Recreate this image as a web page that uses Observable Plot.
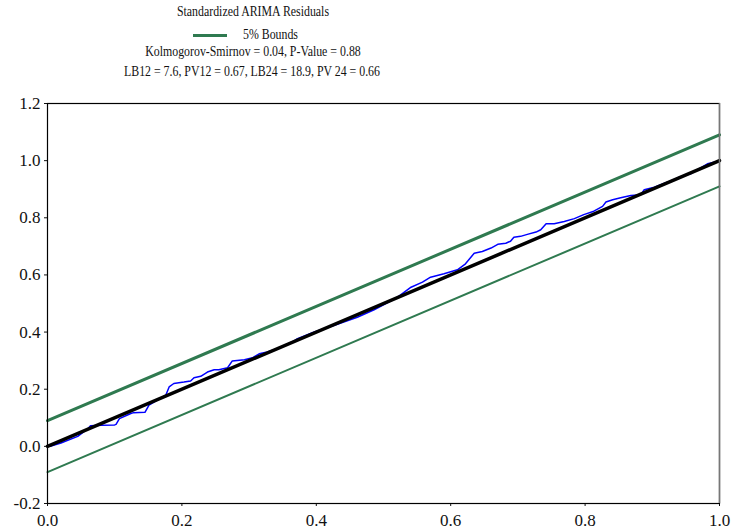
<!DOCTYPE html>
<html>
<head>
<meta charset="utf-8">
<script src="https://cdn.jsdelivr.net/npm/d3@7"></script>
<script src="https://cdn.jsdelivr.net/npm/@observablehq/plot@0.6"></script>
<style>
  html, body { margin: 0; padding: 0; background: #fff; }
  #wrap { width: 740px; height: 531px; position: relative; overflow: hidden; }
  #header { position: relative; width: 740px; height: 82px; font-family: "Liberation Serif", "Times New Roman", serif; font-size: 15px; line-height: 15px; color: #111; }
  .c { position: absolute; white-space: nowrap; transform: translateX(-50%) scaleX(0.79); }
  .l { position: absolute; white-space: nowrap; transform-origin: left center; transform: scaleX(0.79); }
  #swatch { position: absolute; left: 193px; top: 33.5px; width: 34px; height: 3px; background: #2f7a50; }
  #chart svg { display: block; }
</style>
</head>
<body>
<div id="wrap">
  <div id="header">
    <div class="c" id="sub" style="left:253px; top:4px;"></div>
    <div id="swatch"></div>
    <div class="l" id="leg" style="left:243px; top:26.7px;"></div>
    <div class="c" id="ks" style="left:253px; top:44px;"></div>
    <div class="c" id="lb" style="left:252px; top:64px;"></div>
  </div>
  <div id="chart"></div>
</div>
<script>
// ---- texts ----
const subtitle = "Standardized ARIMA Residuals";
const legendLabel = "5% Bounds";
const ksLine = "Kolmogorov-Smirnov = 0.04, P-Value = 0.88";
const lbLine = "LB12 = 7.6, PV12 = 0.67, LB24 = 18.9, PV 24 = 0.66";

// ---- tick values ----
const xTicks = [0.0, 0.2, 0.4, 0.6, 0.8, 1.0];
const yTicks = [-0.2, 0.0, 0.2, 0.4, 0.6, 0.8, 1.0, 1.2];

// ---- reference lines (x endpoints, y endpoints) ----
const lineX = [0, 1];
const diagY = [0, 1];
const upperY = [0.09, 1.09];
const lowerY = [-0.09, 0.91];

// ---- empirical CDF of standardized residuals (blue) ----
const ecdfX = [0.000,0.004,0.020,0.045,0.060,0.064,0.080,0.100,0.102,0.107,0.124,0.128,0.145,0.151,0.176,0.181,0.188,0.203,0.213,0.218,0.228,0.238,0.248,0.255,0.268,0.275,0.293,0.305,0.315,0.327,0.342,0.367,0.372,0.397,0.426,0.461,0.486,0.521,0.541,0.558,0.570,0.590,0.610,0.622,0.635,0.647,0.660,0.670,0.682,0.689,0.694,0.704,0.714,0.727,0.734,0.742,0.754,0.769,0.784,0.798,0.813,0.826,0.831,0.841,0.853,0.868,0.883,0.888,0.903,0.923,0.942,0.957,0.972,0.982,0.992,1.000];
const ecdfY = [0.000,0.000,0.012,0.035,0.062,0.072,0.074,0.075,0.077,0.097,0.115,0.118,0.119,0.144,0.179,0.208,0.220,0.225,0.229,0.240,0.245,0.260,0.268,0.268,0.275,0.299,0.303,0.310,0.324,0.330,0.342,0.369,0.377,0.400,0.423,0.452,0.478,0.522,0.557,0.575,0.592,0.604,0.618,0.639,0.676,0.682,0.694,0.707,0.711,0.718,0.732,0.735,0.742,0.750,0.758,0.779,0.779,0.787,0.797,0.811,0.823,0.840,0.855,0.863,0.870,0.878,0.881,0.898,0.907,0.925,0.944,0.954,0.975,0.989,0.994,1.000];

document.getElementById("sub").textContent = subtitle;
document.getElementById("leg").textContent = legendLabel;
document.getElementById("ks").textContent = ksLine;
document.getElementById("lb").textContent = lbLine;

const ecdf = ecdfX.map((x, i) => ({x, y: ecdfY[i]}));
const mk = ys => lineX.map((x, i) => ({x, y: ys[i]}));
const fmt = d => d.toFixed(1);
const green = "#2f7a50";

const plot = Plot.plot({
  width: 740,
  height: 449,
  marginTop: 21,
  marginBottom: 28,
  marginLeft: 47,
  marginRight: 21,
  style: {fontFamily: "'Liberation Serif', 'Times New Roman', serif", fontSize: "17px", color: "#111", background: "#fff"},
  x: {domain: [0, 1]},
  y: {domain: [-0.2, 1.2]},
  marks: [
    Plot.axisX({ticks: xTicks, tickFormat: fmt, tickSize: 3, tickPadding: 7, label: null}),
    Plot.axisY({ticks: yTicks, tickFormat: fmt, tickSize: 3, tickPadding: 4, label: null}),
    Plot.line(mk(upperY), {x: "x", y: "y", stroke: green, strokeWidth: 3}),
    Plot.line(mk(lowerY), {x: "x", y: "y", stroke: green, strokeWidth: 2}),
    Plot.line(ecdf, {x: "x", y: "y", stroke: "#0000ff", strokeWidth: 1.5}),
    Plot.line(mk(diagY), {x: "x", y: "y", stroke: "#000", strokeWidth: 3.5}),
    Plot.frame({stroke: "#000", strokeWidth: 1.2}),
    Plot.ruleX([1], {stroke: "#777", strokeWidth: 1.5})
  ]
});
document.getElementById("chart").appendChild(plot);
</script>
</body>
</html>
